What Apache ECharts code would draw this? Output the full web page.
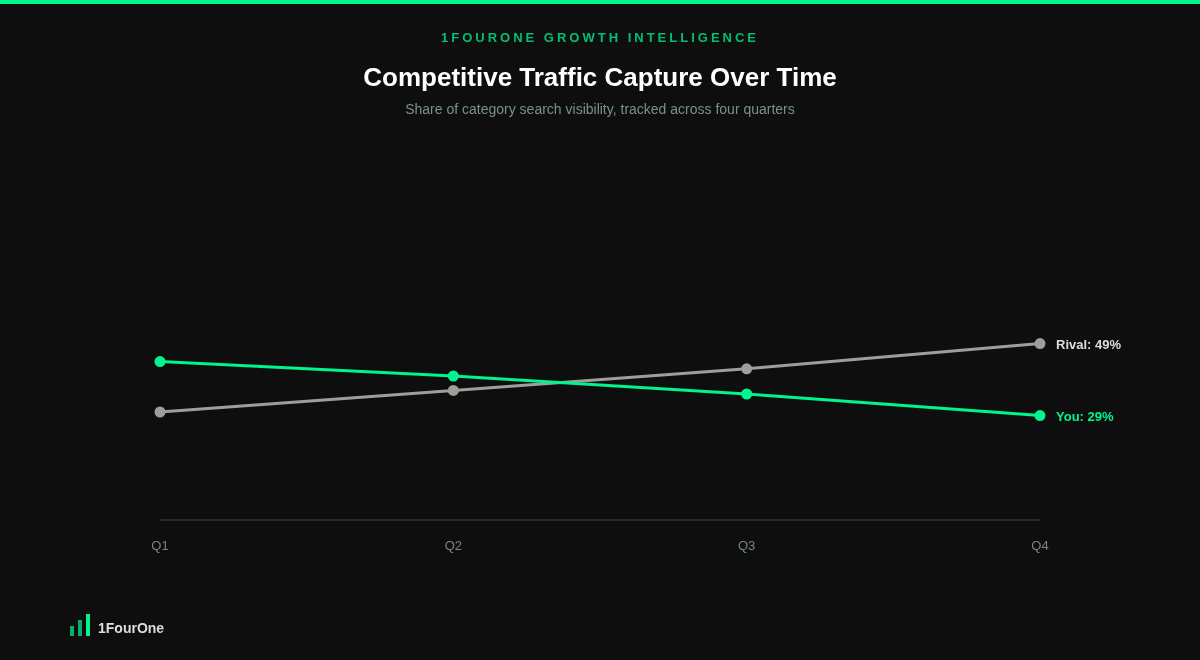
<!DOCTYPE html>
<html>
<head>
<meta charset="utf-8">
<script src="https://cdn.jsdelivr.net/npm/echarts@6/dist/echarts.min.js"></script>
<style>
  html, body { margin: 0; padding: 0; background: #0e0e0e; }
  #wrap { position: relative; width: 1200px; height: 660px; overflow: hidden; }
  #chart { width: 1200px; height: 660px; }
  #eyebrow {
    position: absolute; left: 0; right: 0; top: 30px; text-align: center;
    font: bold 13px "Liberation Sans", Arial, sans-serif; line-height: 15px;
    letter-spacing: 3px; color: #00bf73;
  }
</style>
</head>
<body>
<div id="wrap">
  <div id="chart"></div>
  <div id="eyebrow">1FOURONE GROWTH INTELLIGENCE</div>
</div>
<script>
const quarters = ['Q1', 'Q2', 'Q3', 'Q4'];
const youShare = [44, 40, 35, 29];
const rivalShare = [30, 36, 42, 49];
const logoBars = [10, 16, 22];

const GREEN = '#00f58f';
const FONT = '"Liberation Sans", Arial, sans-serif';

// Brand mark: three rising bars sitting on a common foot
const logoFoot = 636;
const logo = logoBars.map((h, i) => ({
  type: 'rect',
  shape: { x: 70 + i * 8, y: logoFoot - h, width: 4, height: h },
  style: { fill: GREEN, opacity: i === 2 ? 1 : 0.7 }
}));

function seriesFor(name, values, color, labelColor) {
  return {
    name, type: 'line', data: values,
    symbol: 'circle', symbolSize: 11, showSymbol: true,
    lineStyle: { color, width: 3 },
    itemStyle: { color },
    emphasis: { disabled: true },
    animation: false,
    endLabel: {
      show: true, distance: 16, offset: [0, 2], color: labelColor,
      fontFamily: FONT, fontSize: 13, fontWeight: 'bold',
      formatter: p => `${name}: ${p.value}%`
    }
  };
}

const chart = echarts.init(document.getElementById('chart'));
chart.setOption({
  backgroundColor: '#0e0e0e',
  animation: false,
  title: [
    { text: 'Competitive Traffic Capture Over Time', left: 'center', top: 61,
      textStyle: { color: '#ffffff', fontFamily: FONT, fontSize: 26, fontWeight: 'bold' } },
    { text: 'Share of category search visibility, tracked across four quarters', left: 'center', top: 98,
      textStyle: { color: '#7a9283', fontFamily: FONT, fontSize: 14, fontWeight: 'normal' } }
  ],
  grid: { left: 160, right: 160, top: 160, bottom: 140 },
  xAxis: {
    type: 'category', data: quarters, boundaryGap: false,
    axisLine: { lineStyle: { color: '#282828', width: 2, cap: 'butt' } },
    axisTick: { show: false },
    axisLabel: { color: '#76897e', fontFamily: FONT, fontSize: 13, margin: 20 }
  },
  yAxis: { type: 'value', min: 0, max: 100, show: false, splitLine: { show: false } },
  series: [
    seriesFor('Rival', rivalShare, '#a09e99', '#dddddd'),
    seriesFor('You', youShare, GREEN, GREEN)
  ],
  graphic: [
    { type: 'rect', shape: { x: 0, y: 0, width: 1200, height: 4 }, style: { fill: GREEN } },
    ...logo,
    { type: 'text', x: 98, y: 622,
      style: { text: '1FourOne', fill: '#dddddd', font: `bold 14px ${FONT}` } }
  ]
});
</script>
</body>
</html>
